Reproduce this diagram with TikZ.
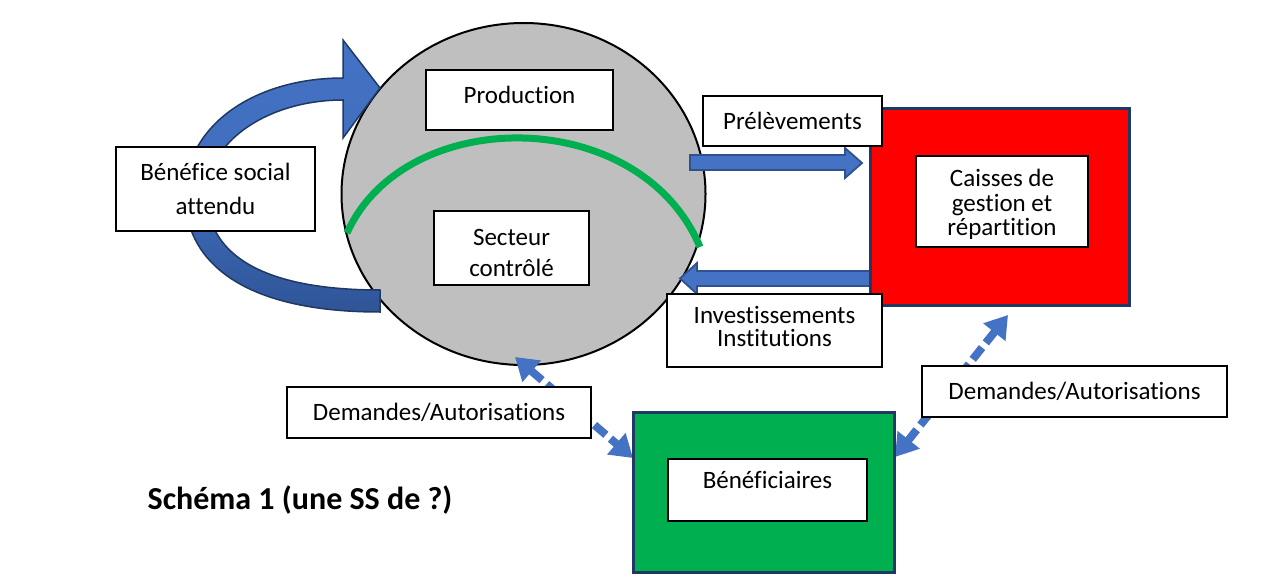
\documentclass[tikz,border=0pt]{standalone}
\usepackage{fontspec}
\setmainfont{Carlito}[Ligatures={NoCommon,NoContextual}]
\usetikzlibrary{arrows.meta,shapes.geometric}
\definecolor{blu}{HTML}{4472C4}
\definecolor{bluedge}{HTML}{2F528F}
\definecolor{navy}{HTML}{1F3864}
\definecolor{dblu}{HTML}{2F5597}
\definecolor{grn}{HTML}{00B050}
\definecolor{gry}{HTML}{BFBFBF}
\begin{document}
\begin{tikzpicture}[x=1pt,y=-1pt,
  box/.style={draw=black,line width=2pt,fill=white,inner sep=0pt,align=center,
    font=\fontsize{25}{30}\selectfont},
  txt/.style={inner sep=0pt,align=center,font=\fontsize{25}{30}\selectfont},
  bigbox/.style={draw=navy,line width=3pt,inner sep=0pt},
  blockarrow/.style={draw=bluedge,line width=1.8pt,fill=blu,line join=miter},
  dasharrow/.style={draw=blu,line width=8pt,dash pattern=on 15pt off 6pt,
    arrows={Triangle[length=22pt,width=27pt]-Triangle[length=22pt,width=27pt]}}]
\useasboundingbox (0,0) rectangle (1279,588);

% sector ellipse
\node[ellipse,draw=black,line width=2pt,fill=gry,minimum width=364pt,minimum height=342pt,inner sep=0pt] (sect) at (523.5,194) {};
\draw[grn,line width=7pt] (347,233) .. controls (405,104) and (640,104) .. (700,247);

% curved feedback arrow
\draw[draw=navy,line width=1.5pt,top color=blu,bottom color=dblu,middle color=blu!85!dblu]
  (380,312) .. controls (240,312) and (185,260) .. (185,195)
  .. controls (185,125) and (255,78) .. (343,78)
  -- (343,40) -- (380,88) -- (343,138) -- (343,100)
  .. controls (270,100) and (207,140) .. (207,195)
  .. controls (207,250) and (255,290) .. (380,290) -- cycle;

% block arrows
\draw[blockarrow] (690,155) -- (845,155) -- (845,148) -- (862,163) -- (845,178) -- (845,170) -- (690,170) -- cycle;
\draw[blockarrow] (871,271) -- (697,271) -- (697,263) -- (680,278.5) -- (697,294) -- (697,286) -- (871,286) -- cycle;

% dashed double arrows
\coordinate (dl1) at (515,357);
\coordinate (dl2) at (633,458);
\coordinate (dr1) at (1008,315);
\coordinate (dr2) at (895,457);
\draw[dasharrow] (dl1) -- (dl2);
\draw[dasharrow] (dr1) -- (dr2);

% boxes inside the sector
\node[box,minimum width=187pt,minimum height=60pt] (prod) at (519.5,100) {};
\node[txt] (prodtext) at (519.5,95) {Production};
\node[box,minimum width=155pt,minimum height=74pt] (ctrl) at (511.5,248) {};
\node[txt,font=\fontsize{25}{31}\selectfont] (ctrltext) at (511.5,252.5) {Secteur\\contrôlé};
\node[box,minimum width=199pt,minimum height=84pt,font=\fontsize{25}{34}\selectfont] (benef) at (215.5,189) {Bénéfice social\\attendu};

% caisses
\node[bigbox,fill=red,minimum width=259pt,minimum height=196pt] (red) at (999.5,207) {};
\node[box,minimum width=172pt,minimum height=91pt] (caisses) at (1002,201.5) {};
\node[txt,font=\fontsize{25}{24.5}\selectfont] (caissestext) at (1002,204.5) {Caisses de\\gestion et\\répartition};
\node[box,minimum width=179pt,minimum height=50pt] (prel) at (792.5,121) {Prélèvements};
\node[box,minimum width=215pt,minimum height=73pt] (inv) at (774.5,330.5) {};
\node[txt,font=\fontsize{25}{23}\selectfont] (invtext) at (774.5,326.5) {Investissements\\Institutions};

% demandes
\node[box,minimum width=304pt,minimum height=51pt] (demL) at (439,412.5) {Demandes/Autorisations};
\node[box,minimum width=305pt,minimum height=51pt] (demR) at (1074.5,391.5) {Demandes/Autorisations};

% beneficiaires
\node[bigbox,fill=grn,minimum width=261pt,minimum height=160pt] (green) at (763.5,492) {};
\node[box,minimum width=199pt,minimum height=62pt] (inner) at (767.5,490) {};
\node[txt] (bentext) at (767.5,480) {Bénéficiaires};

% title
\node[inner sep=0pt,font=\bfseries\fontsize{32}{38}\selectfont] (title) at (300,500) {Schéma 1 (une SS de ?)};
\end{tikzpicture}
\end{document}
